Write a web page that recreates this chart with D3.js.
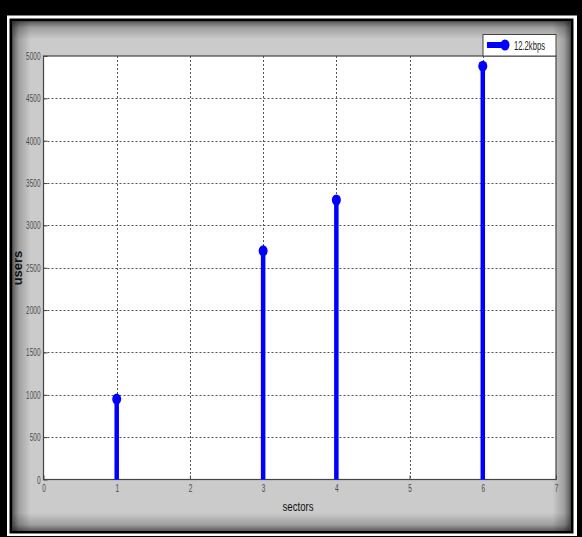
<!DOCTYPE html>
<html>
<head>
<meta charset="utf-8">
<script src="https://cdn.jsdelivr.net/npm/d3@7"></script>
<style>
html,body{margin:0;padding:0;background:#000;}
svg{display:block;}
</style>
</head>
<body>
<script>
// ---- data ----
const sectors = [1, 3, 4, 6];
const users = [950, 2700, 3300, 4880];
const xTicks = [0, 1, 2, 3, 4, 5, 6, 7];
const yTicks = [0, 500, 1000, 1500, 2000, 2500, 3000, 3500, 4000, 4500, 5000];
const seriesName = "12.2kbps";
const xLabel = "sectors";
const yLabel = "users";

const W = 582, H = 537;
const svg = d3.select("body").append("svg").attr("width", W).attr("height", H);
const defs = svg.append("defs");

// frame
svg.append("rect").attr("width", W).attr("height", H).attr("fill", "#000");
svg.append("rect").attr("x", 7).attr("y", 15.5).attr("width", 570).attr("height", 520.5).attr("fill", "#fff");
svg.append("rect").attr("x", 9.5).attr("y", 18.5).attr("width", 564).attr("height", 515).attr("fill", "#000");
const px0 = 12.5, py0 = 21.5, px1 = 570.5, py1 = 531;
svg.append("rect").attr("x", px0).attr("y", py0).attr("width", px1 - px0).attr("height", py1 - py0).attr("fill", "#cbcbcb");

// inner shadow gradients
function grad(id, x1, y1, x2, y2) {
  const g = defs.append("linearGradient").attr("id", id)
    .attr("x1", x1).attr("y1", y1).attr("x2", x2).attr("y2", y2);
  g.append("stop").attr("offset", "0").attr("stop-color", "#000").attr("stop-opacity", 0.55);
  g.append("stop").attr("offset", "0.35").attr("stop-color", "#000").attr("stop-opacity", 0.22);
  g.append("stop").attr("offset", "1").attr("stop-color", "#000").attr("stop-opacity", 0);
}
grad("gL", 0, 0, 1, 0); grad("gR", 1, 0, 0, 0); grad("gT", 0, 0, 0, 1); grad("gB", 0, 1, 0, 0);
const sw = 18;
svg.append("rect").attr("x", px0).attr("y", py0).attr("width", sw).attr("height", py1 - py0).attr("fill", "url(#gL)");
svg.append("rect").attr("x", px1 - sw).attr("y", py0).attr("width", sw).attr("height", py1 - py0).attr("fill", "url(#gR)");
svg.append("rect").attr("x", px0).attr("y", py0).attr("width", px1 - px0).attr("height", sw).attr("fill", "url(#gT)");
svg.append("rect").attr("x", px0).attr("y", py1 - sw).attr("width", px1 - px0).attr("height", sw).attr("fill", "url(#gB)");

// plot area
const L = 43.5, R = 556, T = 56, B = 479.5;
const x = d3.scaleLinear().domain([0, 7]).range([L, R]);
const y = d3.scaleLinear().domain([0, 5000]).range([B, T]);

svg.append("rect").attr("x", L).attr("y", T).attr("width", R - L).attr("height", B - T).attr("fill", "#fff");

// grid
const grid = svg.append("g").attr("stroke", "#555").attr("stroke-width", 1).attr("stroke-dasharray", "2,2");
grid.selectAll("line.v").data(xTicks.filter(d => d > 0 && d < 7)).join("line")
  .attr("class", "v")
  .attr("x1", d => Math.round(x(d)) + 0.5).attr("x2", d => Math.round(x(d)) + 0.5)
  .attr("y1", T).attr("y2", B);
grid.selectAll("line.h").data(yTicks.filter(d => d > 0 && d < 5000)).join("line")
  .attr("class", "h")
  .attr("x1", L).attr("x2", R)
  .attr("y1", d => Math.round(y(d)) + 0.5).attr("y2", d => Math.round(y(d)) + 0.5);

// axes (ticks inside)
const fontTick = "'Liberation Sans',Arial,sans-serif";
const xAxis = svg.append("g").attr("transform", `translate(0,${B})`)
  .call(d3.axisBottom(x).tickValues(xTicks).tickFormat(d3.format("d")).tickSizeInner(-4).tickSizeOuter(0).tickPadding(6));
const yAxis = svg.append("g").attr("transform", `translate(${L},0)`)
  .call(d3.axisLeft(y).tickValues(yTicks).tickFormat(d3.format("d")).tickSizeInner(-4).tickSizeOuter(0).tickPadding(3));
[xAxis, yAxis].forEach(a => {
  a.select(".domain").remove();
  a.selectAll(".tick line").attr("stroke", "#444");
  a.selectAll(".tick text").attr("fill", "#4a4a4a").style("font-family", fontTick).style("font-size", "11px")
    .attr("lengthAdjust", "spacingAndGlyphs")
    .attr("textLength", function () { return this.textContent.length * 3.6; });
});
xAxis.selectAll(".tick text").attr("dy", "0.55em");

// box
svg.append("rect").attr("x", L).attr("y", T).attr("width", R - L).attr("height", B - T)
  .attr("fill", "none").attr("stroke", "#444").attr("stroke-width", 1.2);

// stems
const data = sectors.map((s, i) => ({ s, u: users[i] }));
svg.append("g").selectAll("line").data(data).join("line")
  .attr("x1", d => x(d.s)).attr("x2", d => x(d.s))
  .attr("y1", y(0)).attr("y2", d => y(d.u))
  .attr("stroke", "#0000ff").attr("stroke-width", 4.5);
svg.append("g").selectAll("ellipse").data(data).join("ellipse")
  .attr("cx", d => x(d.s)).attr("cy", d => y(d.u))
  .attr("rx", 4.5).attr("ry", 5.5).attr("fill", "#0000ff");

// axis labels
svg.append("text").attr("x", 298).attr("y", 511).attr("text-anchor", "middle")
  .style("font-family", fontTick).style("font-size", "12.5px").attr("fill", "#111")
  .attr("lengthAdjust", "spacingAndGlyphs").attr("textLength", 31).text(xLabel);
svg.append("text").attr("transform", "translate(22,268) rotate(-90)").attr("text-anchor", "middle")
  .style("font-family", "'Liberation Sans',sans-serif").style("font-size", "13px").style("font-weight", "bold")
  .attr("fill", "#111").text(yLabel);

// legend
const lg = svg.append("g");
lg.append("rect").attr("x", 483).attr("y", 34.5).attr("width", 73).attr("height", 21.5)
  .attr("fill", "#fff").attr("stroke", "#444").attr("stroke-width", 1);
lg.append("line").attr("x1", 487).attr("x2", 504).attr("y1", 45).attr("y2", 45)
  .attr("stroke", "#0000ff").attr("stroke-width", 6);
lg.append("ellipse").attr("cx", 505).attr("cy", 45).attr("rx", 4.5).attr("ry", 5.5).attr("fill", "#0000ff");
lg.append("text").attr("x", 514).attr("y", 49.5).style("font-family", fontTick).style("font-size", "12px")
  .attr("fill", "#222").attr("lengthAdjust", "spacingAndGlyphs").attr("textLength", 31).text(seriesName);
</script>
</body>
</html>
